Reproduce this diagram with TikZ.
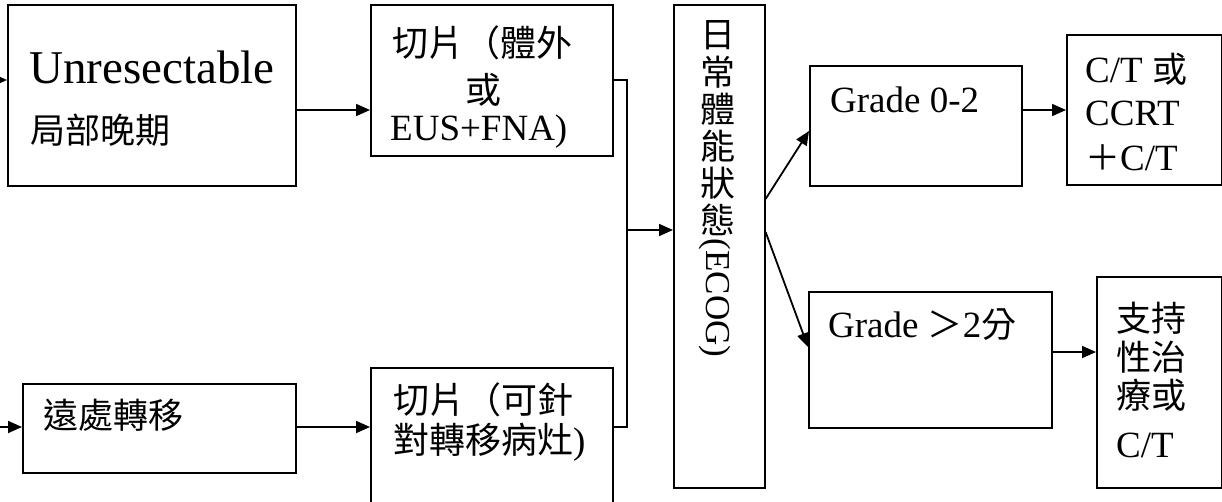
\documentclass[tikz,border=0pt]{standalone}
\usepackage{fontspec}
\setmainfont{Liberation Serif}
\newfontfamily\cjk{Noto Sans CJK TC}
\usetikzlibrary{arrows.meta}
\tikzset{
  box/.style={draw, line width=1.6pt, inner sep=0pt, anchor=north west},
  txt/.style={inner sep=0pt, anchor=base west, font=\fontsize{37}{40}\selectfont},
  big/.style={inner sep=0pt, anchor=base west, font=\fontsize{47}{50}\selectfont},
  cjkc/.style={inner sep=0pt, anchor=center, font=\fontsize{35}{36}\selectfont\cjk},
  arr/.style={line width=1.8pt, -{Triangle[length=14pt,width=12pt]}},
  conn/.style={line width=1.6pt},
}
\begin{document}
\begin{tikzpicture}[x=1pt,y=-1pt]
\useasboundingbox (0,0) rectangle (1222,501);
\clip (0,0) rectangle (1222,501);
% boxes
\node[box, minimum width=288pt, minimum height=181pt] (A) at (7,4) {};
\node[box, minimum width=242pt, minimum height=151pt] (B) at (370,4) {};
\node[box, minimum width=273pt, minimum height=89pt] (C) at (22,383) {};
\node[box, minimum width=242pt, minimum height=150pt] (D) at (370,367) {};
\node[box, minimum width=91pt, minimum height=483pt] (E) at (673,4) {};
\node[box, minimum width=212pt, minimum height=120pt] (G1) at (809,65) {};
\node[box, minimum width=243pt, minimum height=136pt] (G2) at (808,291) {};
\node[box, minimum width=155pt, minimum height=150pt] (CT) at (1066,34) {};
\node[box, minimum width=125pt, minimum height=211pt] (ST) at (1096,276) {};
% texts
\node[big] (a1) at (29,83) {Unresectable};
\node[txt, font=\fontsize{35}{36}\selectfont\cjk] (a2) at (30,143) {局部晚期};
\node[txt, font=\fontsize{36}{36}\selectfont\cjk] (b1) at (392,56) {切片（體外};
\node[txt, anchor=base, font=\fontsize{36}{36}\selectfont\cjk] (b2) at (483,103) {或};
\node[txt] (b3) at (390,140) {EUS+FNA)};
\node[txt, font=\fontsize{35}{36}\selectfont\cjk] (c1) at (43,428) {遠處轉移};
\node[txt, font=\fontsize{36}{36}\selectfont\cjk] (d1) at (393,413) {切片（可針};
\node[txt] (d2) at (393,453) {{\cjk\fontsize{36}{36}\selectfont 對轉移病灶})};
\foreach \c [count=\i] in {日,常,體,能,狀,態}
  \node[cjkc] (e\i) at (718,{35+37*(\i-1)}) {\c};
\node[inner sep=0pt, rotate=-90, font=\fontsize{35}{36}\selectfont] (e7) at (715,298) {(ECOG)};
\node[txt] (g1) at (830,112) {Grade 0-2};
\node[txt] (g2) at (828,337) {Grade {\cjk\fontsize{35}{36}\selectfont ＞}2{\cjk\fontsize{35}{36}\selectfont 分}};
\node[txt] (t1) at (1085,82) {C/T {\cjk\fontsize{35}{36}\selectfont 或}};
\node[txt] (t2) at (1085,125) {CCRT};
\node[txt] (t3) at (1085,170) {{\cjk\fontsize{35}{36}\selectfont ＋}C/T};
\node[txt, font=\fontsize{35}{36}\selectfont\cjk] (s1t) at (1116,331) {支持};
\node[txt, font=\fontsize{35}{36}\selectfont\cjk] (s2t) at (1116,370) {性治};
\node[txt, font=\fontsize{35}{36}\selectfont\cjk] (s3t) at (1116,408) {療或};
\node[txt] (s4t) at (1116,457) {C/T};
% connectors
\coordinate (in1) at (0,80);
\coordinate (in2) at (0,427);
\coordinate (j) at (627,230);
\draw[arr] (in1) -- (A.west |- in1);
\draw[arr] (in2) -- (C.west |- in2);
\draw[arr] (A.east |- 0,110) -- (B.west |- 0,110);
\draw[arr] (C.east |- 0,427) -- (D.west |- 0,427);
\draw[conn] (B.east |- 0,80) -- (j |- 0,80) -- (j |- 0,427) -- (D.east |- 0,427);
\draw[arr] (j) -- (E.west |- j);
\draw[arr] (E.east |- 0,199) -- (G1.west |- 0,131);
\draw[arr] (E.east |- 0,232) -- (G2.west |- 0,347);
\draw[arr] (G1.east |- 0,110) -- (CT.west |- 0,110);
\draw[arr] (G2.east |- 0,352) -- (ST.west |- 0,352);
\end{tikzpicture}
\end{document}
